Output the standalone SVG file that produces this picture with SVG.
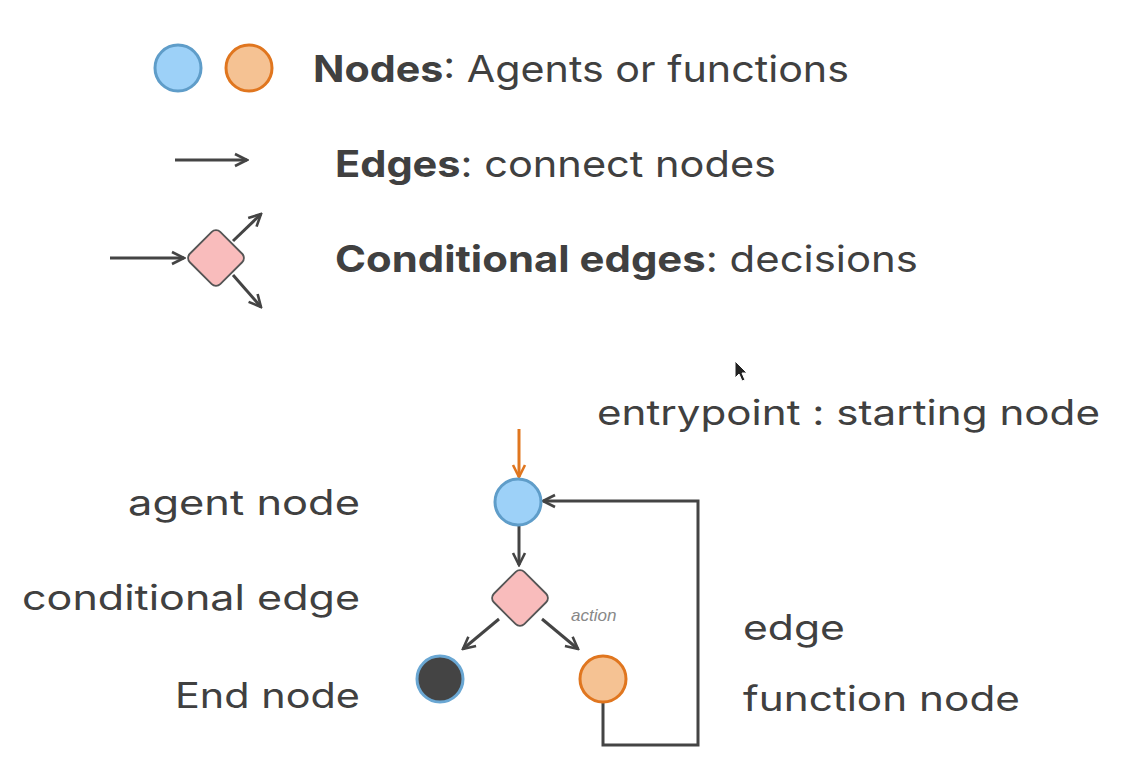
<svg xmlns="http://www.w3.org/2000/svg" width="1142" height="781" viewBox="0 0 1142 781">
<style>
text{font-family:Inter,"Noto Sans","Liberation Sans",sans-serif;fill:#404040;}
.leg{font-size:37px;}
.lbl{font-size:35px;}
.b{font-weight:700;}
.edge{stroke:#444;stroke-width:3;fill:none;}
.blue{fill:#9dd1f8;stroke:#5f9dc9;stroke-width:3;}
.orange{fill:#f5c293;stroke:#e0761f;stroke-width:3;}
.diamond{fill:#f9bcbc;stroke:#555;stroke-width:1.8;}
.endn{fill:#444;stroke:#6aa7d3;stroke-width:3;}
</style>
<defs>
<marker id="ah" viewBox="0 0 16 16" refX="14" refY="8" markerWidth="16" markerHeight="16" markerUnits="userSpaceOnUse" orient="auto">
<path d="M2,2 L14,8 L2,14" fill="none" stroke="#444" stroke-width="2.6"/>
</marker>
<marker id="aho" viewBox="0 0 16 16" refX="14" refY="8" markerWidth="16" markerHeight="16" markerUnits="userSpaceOnUse" orient="auto">
<path d="M2,2 L14,8 L2,14" fill="none" stroke="#e0761f" stroke-width="2.6"/>
</marker>
</defs>
<rect width="1142" height="781" fill="#ffffff"/>

<g id="legend">
<g id="legend-nodes">
<circle class="blue" cx="178" cy="68" r="23"/>
<circle class="orange" cx="249" cy="68" r="23"/>
<text class="leg" x="313" y="82" textLength="536" lengthAdjust="spacingAndGlyphs"><tspan class="b">Nodes</tspan>: Agents or functions</text>
</g>
<g id="legend-edges">
<line class="edge" x1="175" y1="160" x2="247" y2="160" marker-end="url(#ah)"/>
<text class="leg" x="335" y="177" textLength="441" lengthAdjust="spacingAndGlyphs"><tspan class="b">Edges</tspan>: connect nodes</text>
</g>
<g id="legend-conditional">
<line class="edge" x1="110" y1="258" x2="184" y2="258" marker-end="url(#ah)"/>
<rect class="diamond" x="-21.5" y="-21.5" width="43" height="43" rx="6" transform="translate(216,258) rotate(45)"/>
<line class="edge" x1="233" y1="241" x2="261" y2="214" marker-end="url(#ah)"/>
<line class="edge" x1="233" y1="275" x2="261" y2="307" marker-end="url(#ah)"/>
<text class="leg" x="335" y="272" textLength="583" lengthAdjust="spacingAndGlyphs"><tspan class="b">Conditional edges</tspan>: decisions</text>
</g>
</g>

<g id="connectors">
<line x1="519" y1="429" x2="519" y2="477" stroke="#e0761f" stroke-width="3" marker-end="url(#aho)"/>
<line class="edge" x1="519" y1="525" x2="519" y2="565" marker-end="url(#ah)"/>
<line class="edge" x1="499" y1="619" x2="463" y2="649" marker-end="url(#ah)"/>
<line class="edge" x1="542" y1="619" x2="578" y2="649" marker-end="url(#ah)"/>
<path class="edge" d="M603,703 V745 H698 V501 H543" marker-end="url(#ah)"/>
<text x="571" y="621" style="font-family:'Liberation Sans',Arial,sans-serif;font-size:17px;font-style:italic;fill:#888;">action</text>
</g>

<g id="node-agent"><circle class="blue" cx="518" cy="502" r="23"/></g>
<g id="node-conditional"><rect class="diamond" x="-21.5" y="-21.5" width="43" height="43" rx="6" transform="translate(520,598) rotate(45)"/></g>
<g id="node-end"><circle class="endn" cx="440" cy="679" r="23"/></g>
<g id="node-function"><circle class="orange" cx="603" cy="679" r="23"/></g>

<g id="labels">
<text class="lbl" x="597" y="425" textLength="503" lengthAdjust="spacingAndGlyphs">entrypoint : starting node</text>
<text class="lbl" x="360" y="515" text-anchor="end" textLength="232" lengthAdjust="spacingAndGlyphs">agent node</text>
<text class="lbl" x="360" y="610" text-anchor="end" textLength="338" lengthAdjust="spacingAndGlyphs">conditional edge</text>
<text class="lbl" x="360" y="708" text-anchor="end" textLength="185" lengthAdjust="spacingAndGlyphs">End node</text>
<text class="lbl" x="743" y="640" textLength="102" lengthAdjust="spacingAndGlyphs">edge</text>
<text class="lbl" x="743" y="711" textLength="277" lengthAdjust="spacingAndGlyphs">function node</text>
</g>

<path id="cursor" d="M735,361 L735,378 L739,374 L742,381 L745,380 L742,373 L747,373 Z" fill="#222" stroke="#fff" stroke-width="1"/>
</svg>
